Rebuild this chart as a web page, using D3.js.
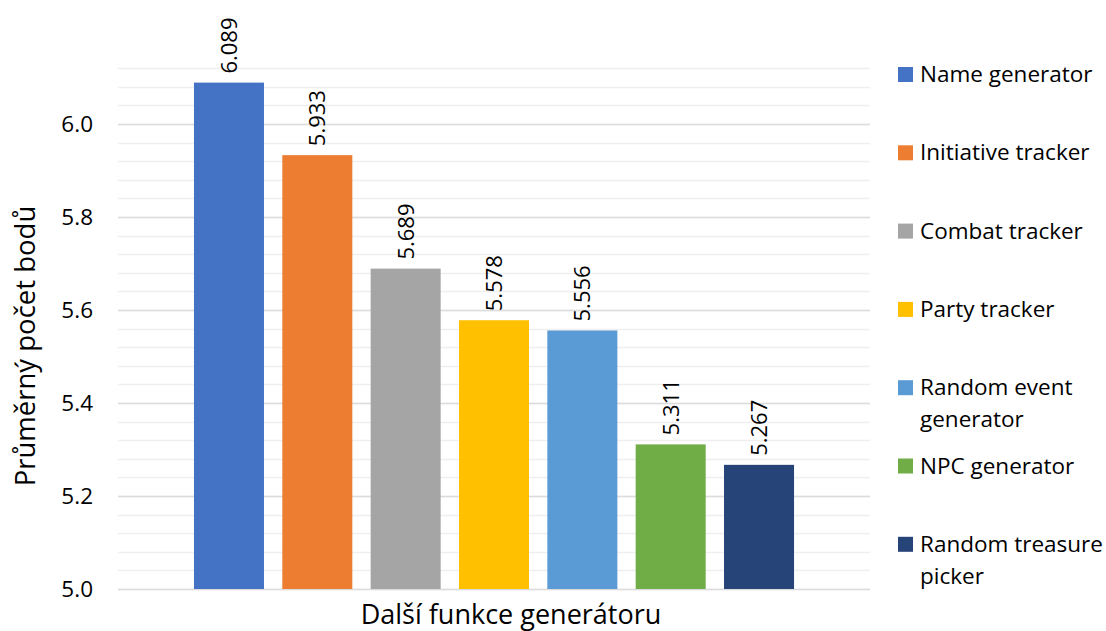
<!DOCTYPE html>
<html><head><meta charset="utf-8">
<script src="https://cdn.jsdelivr.net/npm/d3@7"></script>
<style>body{margin:0;background:#fff;} text{font-family:"Open Sans",sans-serif;fill:#000;}</style>
</head><body>
<svg id="c" width="1106" height="631"></svg>
<script>
const categories = ["Name generator","Initiative tracker","Combat tracker","Party tracker","Random event generator","NPC generator","Random treasure picker"];
const legendLines = [["Name generator"],["Initiative tracker"],["Combat tracker"],["Party tracker"],["Random event","generator"],["NPC generator"],["Random treasure","picker"]];
const values = [6.089,5.933,5.689,5.578,5.556,5.311,5.267];
const labels = ["6.089","5.933","5.689","5.578","5.556","5.311","5.267"];
const colors = ["#4472C4","#ED7D31","#A5A5A5","#FFC000","#5B9BD5","#70AD47","#264478"];
const yTicks = [5.0,5.2,5.4,5.6,5.8,6.0];
const yMin = 5.0, yMax = 6.12, minorStep = 0.04;
const xTitle = "Další funkce generátoru";
const yTitle = "Průměrný počet bodů";

(function(){
const svg = d3.select("#c");
const pL = 118, pR = 870, pT = 68.2, pB = 589;
const y = d3.scaleLinear().domain([yMin, yMax]).range([pB, pT]);
const x = d3.scaleBand().domain(categories).range([184.8, 803.2]).paddingInner(0.2075).paddingOuter(0.10375);

// minor gridlines
const minor = d3.range(0, Math.round((yMax - yMin)/minorStep)+1).map(i => +(yMin + i*minorStep).toFixed(2));
svg.append("g").selectAll("line").data(minor).join("line")
  .attr("x1", pL).attr("x2", pR)
  .attr("y1", d => Math.round(y(d))+0.5).attr("y2", d => Math.round(y(d))+0.5)
  .attr("stroke", "#efefef").attr("stroke-width", 1.3);
// major gridlines
svg.append("g").selectAll("line").data(yTicks).join("line")
  .attr("x1", pL).attr("x2", pR)
  .attr("y1", d => Math.round(y(d))+0.5).attr("y2", d => Math.round(y(d))+0.5)
  .attr("stroke", "#dcdcdc").attr("stroke-width", 1.5);

// y tick labels via axis
const yAxis = d3.axisLeft(y).tickValues(yTicks).tickFormat(d3.format(".1f")).tickSize(0).tickPadding(0);
const ga = svg.append("g").attr("transform", "translate(93,0)").call(yAxis);
ga.select(".domain").remove();
ga.selectAll("text").style("font-size", "22.5px").style("font-family", "'Open Sans',sans-serif").attr("fill", "#000");

// bars
svg.append("g").selectAll("rect").data(values).join("rect")
  .attr("x", (d,i) => x(categories[i])).attr("width", x.bandwidth())
  .attr("y", d => y(d)).attr("height", d => y(yMin) - y(d))
  .attr("fill", (d,i) => colors[i]);

// bar labels
svg.append("g").selectAll("text").data(values).join("text")
  .attr("transform", (d,i) => `translate(${x(categories[i]) + x.bandwidth()/2},${y(d) - 9}) rotate(-90)`)
  .attr("dy", "0.36em").attr("text-anchor", "start")
  .style("font-size", "22px").text((d,i) => labels[i]);

// axis titles
svg.append("text").attr("x", (pL+pR)/2 + 17).attr("y", 624).attr("text-anchor", "middle")
  .style("font-size", "27px").text(xTitle);
svg.append("text").attr("transform", "translate(35,346) rotate(-90)").attr("text-anchor", "middle")
  .style("font-size", "27.5px").text(yTitle);

// legend
const lg = svg.append("g").selectAll("g").data(legendLines).join("g")
  .attr("transform", (d,i) => `translate(898,${82 + i*78.3})`);
lg.append("rect").attr("x", 0).attr("y", -15).attr("width", 15).attr("height", 15).attr("fill", (d,i) => colors[i]);
lg.each(function(lines){
  const t = d3.select(this).append("text").attr("x", 22).attr("y", 0).style("font-size", "22.5px");
  lines.forEach((l, j) => t.append("tspan").attr("x", 22).attr("y", j*32).text(l));
});
})();
</script>
</body></html>
